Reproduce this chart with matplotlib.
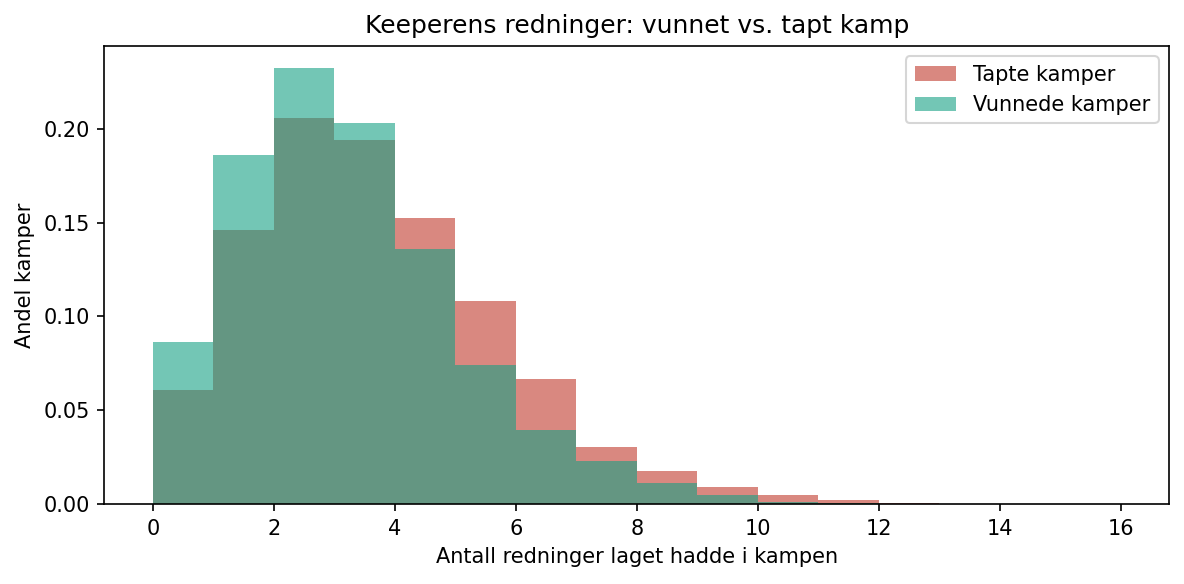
import numpy as np
import matplotlib.pyplot as plt

# share of matches per number of saves (bins of width 1, 0..16)
bin_edges = np.arange(0, 17)
lost_share = [0.0607, 0.146, 0.2059, 0.1941, 0.1524, 0.1082, 0.0666, 0.0303,
              0.0175, 0.0089, 0.0046, 0.002, 0.0003, 0.0001, 0.0, 0.0]
won_share = [0.0863, 0.1862, 0.2326, 0.2033, 0.136, 0.074, 0.0393, 0.0228,
             0.011, 0.0046, 0.001, 0.0003, 0.0001, 0.0, 0.0, 0.0]

fig, ax = plt.subplots(figsize=(1184 / 150, 584 / 150), dpi=150)
ax.hist(bin_edges[:-1], bins=bin_edges, weights=lost_share,
        color='#c0392b', alpha=0.6, label='Tapte kamper')
ax.hist(bin_edges[:-1], bins=bin_edges, weights=won_share,
        color='#16a085', alpha=0.6, label='Vunnede kamper')
ax.set_title('Keeperens redninger: vunnet vs. tapt kamp')
ax.set_xlabel('Antall redninger laget hadde i kampen')
ax.set_ylabel('Andel kamper')
ax.set_xticks(np.arange(0, 17, 2))
ax.legend(loc='upper right')
fig.subplots_adjust(left=104.5 / 1184, right=1169 / 1184, top=1 - 46 / 584, bottom=1 - 504 / 584)
fig.savefig('out.png', dpi=150)
